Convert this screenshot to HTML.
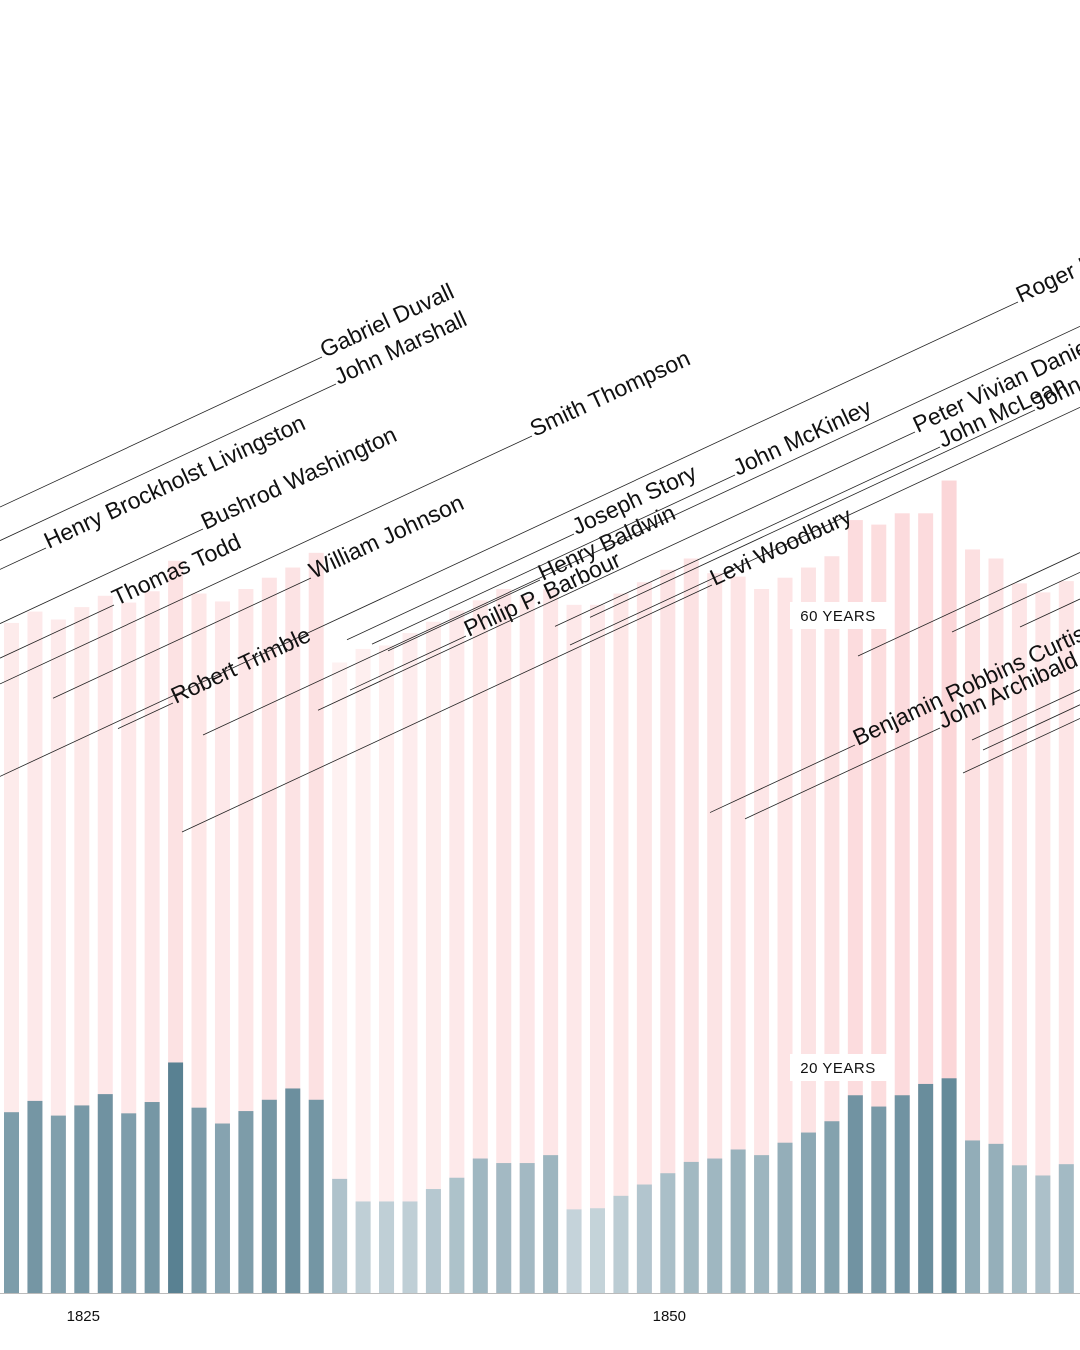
<!DOCTYPE html>
<html><head><meta charset="utf-8"><style>
body{margin:0;background:#fff;}
svg{display:block;font-family:"Liberation Sans",sans-serif;}
</style></head><body>
<svg id="c" width="1080" height="1350"></svg>
<script>
const years=[];for(let y=1822;y<=1867;y++)years.push(y);
const totalYears=[59.3,60.3,59.6,60.7,61.7,61.1,62.1,64.8,61.9,61.2,62.3,63.3,64.2,65.5,55.8,57.0,57.3,58.4,59.4,60.4,61.3,62.3,61.7,62.3,60.9,60.9,61.9,62.9,64.0,65.0,63.7,63.4,62.3,63.3,64.2,65.2,68.4,68.0,69.0,69.0,71.9,65.8,65.0,62.8,62.0,63.0];
const avgYears=[16.0,17.0,15.7,16.6,17.6,15.9,16.9,20.4,16.4,15.0,16.1,17.1,18.1,17.1,10.1,8.1,8.1,8.1,9.2,10.2,11.9,11.5,11.5,12.2,7.4,7.5,8.6,9.6,10.6,11.6,11.9,12.7,12.2,13.3,14.2,15.2,17.5,16.5,17.5,18.5,19.0,13.5,13.2,11.3,10.4,11.4];
const tickYears=[1825,1850];
const refLines=[60,20];
const names=["Gabriel Duvall","John Marshall","Henry Brockholst Livingston","Bushrod Washington","Thomas Todd","William Johnson","Robert Trimble","Smith Thompson","Joseph Story","Henry Baldwin","Philip P. Barbour","John McKinley","Peter Vivian Daniel","John McLean","John Catron","Levi Woodbury","Roger B. Taney","Benjamin Robbins Curtis","John Archibald Campbell"];
// label layout: line start x -> text start (x1,y1); lines parallel
const L=[[0,322,357],[0,336,384],[0,46,548],[0,203,529],[0,114,605],[53,311,578],[118,173,703],[0,532,436],[347,574,534],[388,540,580],[350,466,636],[372,735,475],[318,915,432],[555,940,447],[590,1035,410],[182,712,585],[0,1018,302],[710,855,745],[745,940,728]];
const extra=[[858,656],[952,632],[1020,627],[972,740],[983,750],[963,773],[570,645],[203,735]];
const SL=0.466;
const NS="http://www.w3.org/2000/svg";
const svg=document.getElementById('c');
const base=1293, pxPerYear=11.3;
const X=yr=>4+(yr-1822)*23.44;
const Y=v=>base-v*pxPerYear;
function mk(t,a,p){const e=document.createElementNS(NS,t);for(const k in a)e.setAttribute(k,a[k]);(p||svg).appendChild(e);return e;}
function mix(a,b,t){return 'rgb('+a.map((v,i)=>Math.round(v+(b[i]-v)*t)).join(',')+')';}
years.forEach((yr,i)=>{
  const tp=Math.max(0,Math.min(1,(totalYears[i]-55)/17));
  const r=mk('rect',{x:X(yr),y:Y(totalYears[i]),width:15,height:base-Y(totalYears[i]),fill:mix([254,242,242],[251,214,216],tp)});
  
  
  const ta=Math.max(0,Math.min(1,(avgYears[i]-7)/13.5));
  const d=mk('rect',{x:X(yr),y:Y(avgYears[i]),width:15,height:base-Y(avgYears[i]),fill:mix([200,214,220],[88,128,145],ta)});
  
  
});
refLines.forEach(v=>{
  const g=mk('g',{});
  
  
  mk('rect',{x:790,y:Y(v)-13,width:97,height:27,fill:'#fff'},g);
  const t=mk('text',{x:838,y:Y(v)+6,'text-anchor':'middle','font-size':15,fill:'#111','letter-spacing':'0.5'},g);
  t.textContent=v+' YEARS';
});
extra.forEach(l=>{const e=mk('line',{x1:l[0],y1:l[1],x2:1080,y2:l[1]-(1080-l[0])*SL,stroke:'#222','stroke-width':0.8});
  
  });
L.forEach((l,i)=>{
  const g=mk('g',{});
  
  
  const y0=l[2]+(l[1]-l[0])*SL;
  mk('line',{x1:l[0],y1:y0,x2:l[1],y2:l[2],stroke:'#222','stroke-width':0.8},g);
  const t=mk('text',{x:l[1]+2,y:l[2]+2,'font-size':23,fill:'#111',transform:'rotate(-25 '+l[1]+' '+l[2]+')'},g);
  t.textContent=names[i];
});
const ax=mk('line',{x1:0,y1:base+0.5,x2:1080,y2:base+0.5,stroke:'#bbb','stroke-width':1});


tickYears.forEach(yr=>{
  const t=mk('text',{x:X(yr)+9,y:1321,'text-anchor':'middle','font-size':15,fill:'#111'});
  
  
  t.textContent=yr;
});
</script>
</body></html>
